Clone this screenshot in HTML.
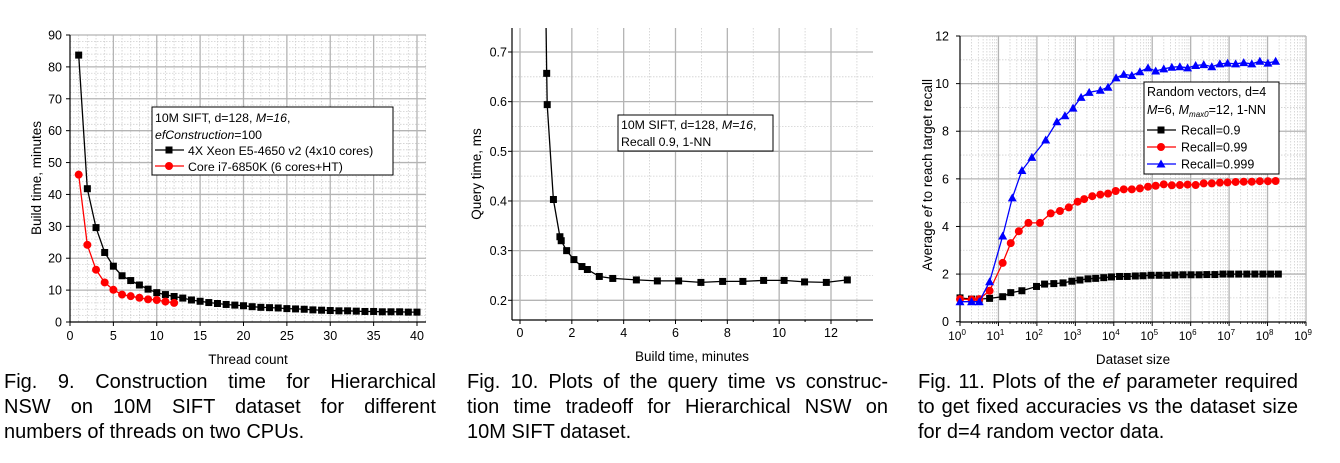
<!DOCTYPE html>
<html><head><meta charset="utf-8"><style>
body{margin:0;width:1340px;height:463px;background:#fff;overflow:hidden;font-family:"Liberation Sans",sans-serif}
svg{position:absolute;left:0;top:0}
.cap{position:absolute;font-size:20px;line-height:25px;color:#000}
.cap div{text-align:justify;text-align-last:justify;white-space:nowrap}
.cap div.l{text-align-last:left}
</style></head><body>
<svg id="s" width="1340" height="463" font-family="Liberation Sans, sans-serif"></svg>
<div class="cap" style="left:4px;top:370px;width:432px">
<div>Fig. 9. Construction time for Hierarchical</div><div>NSW on 10M SIFT dataset for different</div><div class="l">numbers of threads on two CPUs.</div></div>
<div class="cap" style="left:467px;top:370px;width:421px">
<div>Fig. 10. Plots of the query time vs construc-</div><div>tion time tradeoff for Hierarchical NSW on</div><div class="l">10M SIFT dataset.</div></div>
<div class="cap" style="left:918px;top:370px;width:380px">
<div>Fig. 11. Plots of the <i>ef</i> parameter required</div><div>to get fixed accuracies vs the dataset size</div><div class="l">for d=4 random vector data.</div></div>
<script>
// ---- Chart 1 data
const threadsXeon=[1,2,3,4,5,6,7,8,9,10,11,12,13,14,15,16,17,18,19,20,21,22,23,24,25,26,27,28,29,30,31,32,33,34,35,36,37,38,39,40];
const buildXeon=[83.7,41.8,29.6,21.8,17.5,14.5,13,11.6,10.3,9.2,8.6,8,7.5,6.9,6.5,6.1,5.8,5.5,5.3,5.1,4.8,4.6,4.5,4.4,4.2,4.1,4.0,3.8,3.7,3.6,3.5,3.5,3.4,3.3,3.3,3.2,3.2,3.2,3.1,3.1];
const threadsI7=[1,2,3,4,5,6,7,8,9,10,11,12];
const buildI7=[46.2,24.2,16.4,12.4,10.1,8.6,8.1,7.6,7.1,6.9,6.4,6.0];
const ticks1X=[0,5,10,15,20,25,30,35,40];
const ticks1Y=[0,10,20,30,40,50,60,70,80,90];
// ---- Chart 2 data
const buildTime=[0.98,1.03,1.05,1.29,1.54,1.59,1.80,2.08,2.39,2.60,3.06,3.58,4.49,5.30,6.12,6.98,7.82,8.60,9.40,10.19,10.98,11.82,12.63];
const queryTime=[0.85,0.657,0.594,0.403,0.328,0.320,0.300,0.282,0.268,0.262,0.248,0.244,0.241,0.239,0.239,0.236,0.238,0.238,0.240,0.240,0.237,0.236,0.241];
const ticks2X=[0,2,4,6,8,10,12];
const ticks2Y=[0.2,0.3,0.4,0.5,0.6,0.7];
// ---- Chart 3 data (x = log10 dataset size)
const logSize09=[0,0.3,0.5,0.77,1.11,1.32,1.61,1.99,2.2,2.44,2.68,2.91,3.12,3.33,3.53,3.74,3.94,4.15,4.35,4.56,4.76,4.97,5.18,5.38,5.59,5.80,6.01,6.22,6.42,6.63,6.84,7.04,7.25,7.46,7.67,7.88,8.08,8.28];
const ef09=[1.0,0.95,0.95,0.98,1.05,1.22,1.3,1.48,1.58,1.6,1.63,1.7,1.75,1.8,1.82,1.85,1.88,1.9,1.9,1.92,1.93,1.95,1.95,1.95,1.96,1.97,1.97,1.97,1.98,1.98,2.0,2.0,2.0,2.0,2.0,2.0,2.0,2.0];
const logSize099=[0,0.3,0.5,0.77,1.11,1.32,1.53,1.78,2.08,2.36,2.6,2.83,3.06,3.23,3.44,3.65,3.85,4.05,4.26,4.47,4.68,4.89,5.09,5.30,5.51,5.72,5.92,6.13,6.34,6.55,6.76,6.96,7.17,7.38,7.59,7.80,8.01,8.21];
const ef099=[0.95,0.93,0.95,1.3,2.47,3.3,3.8,4.15,4.15,4.55,4.65,4.8,5.04,5.15,5.27,5.34,5.38,5.49,5.56,5.56,5.6,5.67,5.71,5.77,5.73,5.74,5.76,5.74,5.81,5.81,5.84,5.85,5.87,5.88,5.88,5.9,5.9,5.91];
const logSize0999=[0,0.3,0.5,0.77,1.11,1.36,1.61,1.87,2.23,2.52,2.73,2.94,3.15,3.36,3.65,3.85,4.06,4.26,4.47,4.68,4.89,5.09,5.30,5.51,5.72,5.92,6.13,6.34,6.55,6.76,6.96,7.17,7.38,7.59,7.80,8.01,8.21];
const ef0999=[0.84,0.84,0.84,1.68,3.6,5.2,6.35,6.9,7.63,8.4,8.65,8.97,9.42,9.63,9.72,9.85,10.24,10.39,10.34,10.5,10.66,10.53,10.62,10.69,10.71,10.66,10.76,10.8,10.71,10.83,10.86,10.83,10.88,10.83,10.94,10.86,10.94];
const ticks3Y=[0,2,4,6,8,10,12];
const ticks3X=[0,1,2,3,4,5,6,7,8,9];

const NS="http://www.w3.org/2000/svg";
const svg=document.getElementById('s');
function el(tag,attrs,parent,text){const e=document.createElementNS(NS,tag);for(const k in attrs)e.setAttribute(k,attrs[k]);if(text!==undefined)e.textContent=text;(parent||svg).appendChild(e);return e;}
function lin(d0,d1,p0,p1){return v=>p0+(v-d0)*(p1-p0)/(d1-d0);}
function marker(g,type,x,y,color){
  let m;
  if(type==='sq'){m=el('rect',{x:x-3.5,y:y-3.5,width:7,height:7,fill:color},g);}
  else if(type==='ci'){m=el('circle',{cx:x,cy:y,r:4,fill:color},g);}
  else{m=el('polygon',{points:`${x},${y-4.5} ${x+4.5},${y+3.5} ${x-4.5},${y+3.5}`,fill:color},g);}
  
  
}
function series(g,xs,ys,sx,sy,color,type,name,clipTop){
  const pts=xs.map((v,i)=>sx(v).toFixed(1)+','+sy(ys[i]).toFixed(1)).join(' ');
  const pl=el('polyline',{points:pts,fill:'none',stroke:color,'stroke-width':1.3},g);
  
  
  xs.forEach((v,i)=>{const y=sy(ys[i]);if(clipTop!==undefined&&y<clipTop)return;marker(g,type,sx(v),y,color);});
}
function grid(g,x0,x1,y0,y1,vx,hy,major){
  vx.forEach(x=>el('line',{x1:x,x2:x,y1:y0,y2:y1,stroke:major?'#b4b4b4':'#cfcfcf','stroke-width':major?1.3:0.8,'stroke-dasharray':major?'':'1.5,1.5'},g));
  hy.forEach(y=>el('line',{x1:x0,x2:x1,y1:y,y2:y,stroke:major?'#b4b4b4':'#cfcfcf','stroke-width':major?1.3:0.8,'stroke-dasharray':major?'':'1.5,1.5'},g));
}

// ===== Chart 1
(function(){
const g=el('g',{});  
const L=70,R=426,T=35,B=322;
const sx=lin(0,40,70,417), sy=lin(0,90,322,35);
const mx=[],my=[];for(let v=1;v<=41;v++)if(v%5)mx.push(sx(v));for(let v=2;v<=90;v+=2)if(v%10)my.push(sy(v));
grid(g,L,R,T,B,mx,my,false);
grid(g,L,R,T,B,ticks1X.slice(1).map(sx),ticks1Y.slice(1).map(sy),true);
el('line',{x1:L,x2:L,y1:T,y2:B,stroke:'#000','stroke-width':1.2},g);
el('line',{x1:L,x2:R,y1:B,y2:B,stroke:'#000','stroke-width':1.2},g);
ticks1X.forEach(v=>{el('line',{x1:sx(v),x2:sx(v),y1:B,y2:B+4,stroke:'#000'},g);el('text',{x:sx(v),y:B+18,'font-size':12.5,'text-anchor':'middle'},g,v);});
ticks1Y.forEach(v=>{el('line',{x1:L-4,x2:L,y1:sy(v),y2:sy(v),stroke:'#000'},g);el('text',{x:L-8,y:sy(v)+4.5,'font-size':12.5,'text-anchor':'end'},g,v);});
el('text',{x:248,y:364,'font-size':13.5,'text-anchor':'middle'},g,'Thread count');
el('text',{transform:'translate(41,178) rotate(-90)','font-size':13.5,'text-anchor':'middle'},g,'Build time, minutes');
series(g,threadsXeon,buildXeon,sx,sy,'#000','sq','series-xeon');
series(g,threadsI7,buildI7,sx,sy,'#f00','ci','series-i7');
const lg=el('g',{},g);  
el('rect',{x:152,y:107,width:241,height:68,fill:'#fff',stroke:'#000'},lg);
const t1=el('text',{x:155,y:122,'font-size':12.3},lg);t1.innerHTML='10M SIFT, d=128, <tspan font-style="italic">M=16</tspan>,';
const t2=el('text',{x:155,y:139,'font-size':12.3},lg);t2.innerHTML='<tspan font-style="italic">efConstruction</tspan>=100';
el('line',{x1:155,x2:184,y1:150,y2:150,stroke:'#000','stroke-width':1.3},lg);marker(lg,'sq',169,150,'#000');
el('text',{x:188,y:155,'font-size':12.3},lg,'4X Xeon E5-4650 v2 (4x10 cores)');
el('line',{x1:155,x2:184,y1:166,y2:166,stroke:'#f00','stroke-width':1.3},lg);marker(lg,'ci',169,166,'#f00');
el('text',{x:188,y:171,'font-size':12.3},lg,'Core i7-6850K (6 cores+HT)');
})();

// ===== Chart 2
(function(){
const g=el('g',{});  
const L=512,R=873,T=28,B=320;
const sx=lin(0,12,520,831), sy=lin(0.2,0.7,300.3,52);
el('clipPath',{id:'c2'},g).appendChild(Object.assign(document.createElementNS(NS,'rect'),{}));
const cr=g.querySelector('#c2 rect');cr.setAttribute('x',L);cr.setAttribute('y',T);cr.setAttribute('width',R-L);cr.setAttribute('height',B-T);
const mx=[1,3,5,7,9,11,13].map(sx), my=[0.25,0.35,0.45,0.55,0.65].map(sy);
grid(g,L,R,T,B,mx,my,false);
grid(g,L,R,T,B,ticks2X.map(sx),ticks2Y.map(sy),true);
el('line',{x1:L,x2:L,y1:T,y2:B,stroke:'#000','stroke-width':1.2},g);
el('line',{x1:L,x2:R,y1:B,y2:B,stroke:'#000','stroke-width':1.2},g);
ticks2X.forEach(v=>{el('line',{x1:sx(v),x2:sx(v),y1:B,y2:B+4,stroke:'#000'},g);el('text',{x:sx(v),y:B+17,'font-size':12.5,'text-anchor':'middle'},g,v);});
[1,3,5,7,9,11,13].forEach(v=>el('line',{x1:sx(v),x2:sx(v),y1:B,y2:B+2,stroke:'#000'},g));
ticks2Y.forEach(v=>{el('line',{x1:L-4,x2:L,y1:sy(v),y2:sy(v),stroke:'#000'},g);el('text',{x:L-5,y:sy(v)+4.5,'font-size':12.5,'text-anchor':'end'},g,v.toFixed(1));});
el('text',{x:692,y:361,'font-size':13.5,'text-anchor':'middle'},g,'Build time, minutes');
el('text',{transform:'translate(481,174) rotate(-90)','font-size':13.5,'text-anchor':'middle'},g,'Query time, ms');
const sg=el('g',{'clip-path':'url(#c2)'},g);
series(sg,buildTime,queryTime,sx,sy,'#000','sq','series-query-time',T);
const lg=el('g',{},g);  
el('rect',{x:618,y:115,width:155,height:36,fill:'#fff',stroke:'#000'},lg);
const t1=el('text',{x:621,y:129,'font-size':12.3},lg);t1.innerHTML='10M SIFT, d=128, <tspan font-style="italic">M=16</tspan>,';
el('text',{x:621,y:146,'font-size':12.3},lg,'Recall 0.9, 1-NN');
})();

// ===== Chart 3
(function(){
const g=el('g',{});  
const L=960,R=1306,T=36,B=322;
const sx=lin(0,9,960,1306), sy=lin(0,12,321.7,36);
const mx=[];for(let d=0;d<9;d++)for(let k=2;k<10;k++)mx.push(sx(d+Math.log10(k)));
const my=[1,3,5,7,9,11].map(sy);
grid(g,L,R,T,B,mx,my,false);
grid(g,L,R,T,B,ticks3X.slice(1).map(sx),ticks3Y.slice(1).map(sy),true);
el('line',{x1:L,x2:L,y1:T,y2:B,stroke:'#000','stroke-width':1.2},g);
el('line',{x1:L,x2:R,y1:B,y2:B,stroke:'#000','stroke-width':1.2},g);
mx.forEach(x=>el('line',{x1:x,x2:x,y1:B,y2:B+2,stroke:'#000','stroke-width':0.7},g));
ticks3X.forEach(v=>{el('line',{x1:sx(v),x2:sx(v),y1:B,y2:B+4,stroke:'#000'},g);const t=el('text',{x:sx(v)-3,y:B+18,'font-size':12,'text-anchor':'middle'},g);t.innerHTML='10<tspan dy="-5" font-size="8">'+v+'</tspan>';});
ticks3Y.forEach(v=>{el('line',{x1:L-4,x2:L,y1:sy(v),y2:sy(v),stroke:'#000'},g);el('text',{x:L-11,y:sy(v)+4.5,'font-size':12.5,'text-anchor':'end'},g,v);});
el('text',{x:1133,y:364,'font-size':13.5,'text-anchor':'middle'},g,'Dataset size');
const yt=el('text',{transform:'translate(932,175) rotate(-90)','font-size':13.5,'text-anchor':'middle'},g);yt.innerHTML='Average <tspan font-style="italic">ef</tspan> to reach target recall';
series(g,logSize09,ef09,sx,sy,'#000','sq','series-recall-0.9');
series(g,logSize099,ef099,sx,sy,'#f00','ci','series-recall-0.99');
series(g,logSize0999,ef0999,sx,sy,'#00f','tri','series-recall-0.999');
const lg=el('g',{},g);  
el('rect',{x:1144,y:82,width:135,height:92,fill:'#fff',stroke:'#000'},lg);
el('text',{x:1147,y:96,'font-size':12.5},lg,'Random vectors, d=4');
const t2=el('text',{x:1147,y:114,'font-size':12.5},lg);t2.innerHTML='<tspan font-style="italic">M</tspan>=6, <tspan font-style="italic">M</tspan><tspan font-size="8" font-style="italic" dy="3">max0</tspan><tspan dy="-3">=12, 1-NN</tspan>';
[['#000','sq','Recall=0.9',130],['#f00','ci','Recall=0.99',147],['#00f','tri','Recall=0.999',164]].forEach(r=>{
 el('line',{x1:1147,x2:1176,y1:r[3],y2:r[3],stroke:r[0],'stroke-width':1.3},lg);marker(lg,r[1],1161,r[3],r[0]);
 el('text',{x:1181,y:r[3]+4.5,'font-size':12.5},lg,r[2]);});
})();
</script>
</body></html>
